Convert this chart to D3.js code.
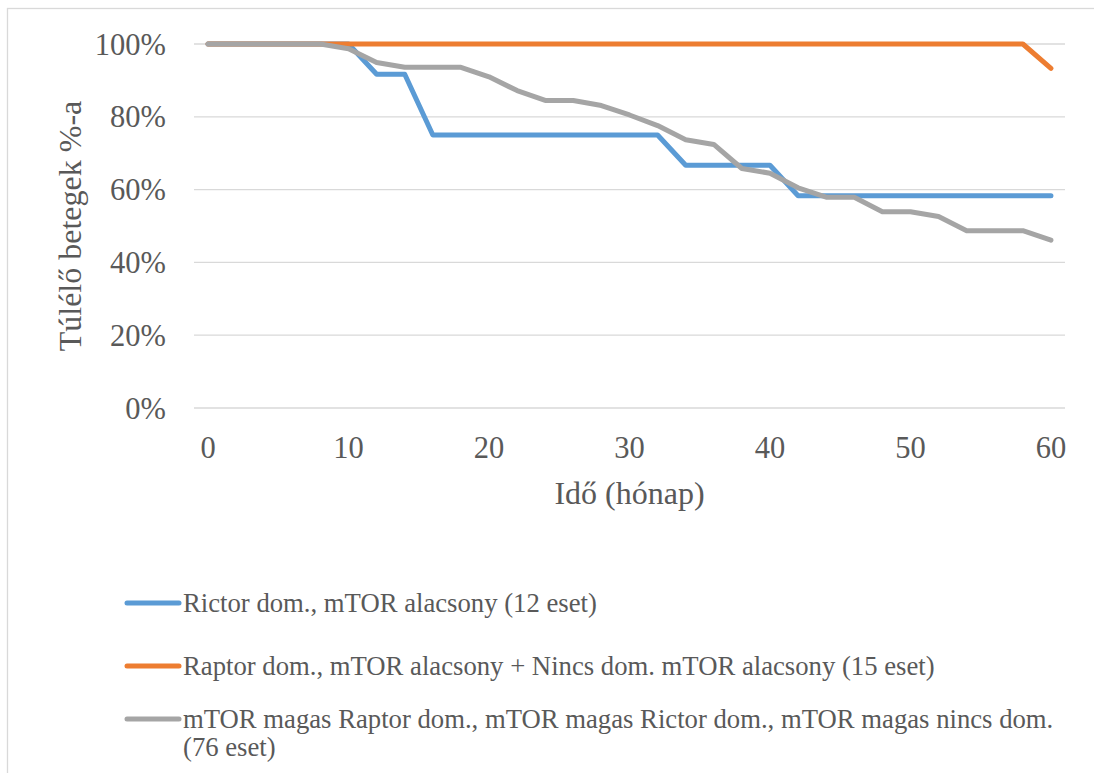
<!DOCTYPE html>
<html>
<head>
<meta charset="utf-8">
<script src="https://cdn.jsdelivr.net/npm/d3@7"></script>
<style>
  html, body { margin: 0; padding: 0; background: #fff; }
  svg { display: block; }
</style>
</head>
<body>
<svg id="chart" width="1094" height="773" font-family="'Liberation Serif', 'DejaVu Serif', serif"></svg>
<script>
// Survival time points (months)
const months = [0,2,4,6,8,10,12,14,16,18,20,22,24,26,28,30,32,34,36,38,40,42,44,46,48,50,52,54,56,58,60];

// Survival (%) per group
const rictorLow = [100,100,100,100,100,100,91.67,91.67,75,75,75,75,75,75,75,75,75,66.67,66.67,66.67,66.67,58.33,58.33,58.33,58.33,58.33,58.33,58.33,58.33,58.33,58.33];
const raptorNoneLow = [100,100,100,100,100,100,100,100,100,100,100,100,100,100,100,100,100,100,100,100,100,100,100,100,100,100,100,100,100,100,93.33];
const mtorHigh = [100,100,100,100,100,98.7,94.9,93.6,93.6,93.6,91.0,87.2,84.5,84.5,83.1,80.5,77.6,73.7,72.4,65.8,64.5,60.5,57.9,57.9,53.9,53.9,52.6,48.7,48.7,48.7,46.1];

const xTicks = [0,10,20,30,40,50,60];
const yTicks = [0,20,40,60,80,100];

const seriesNames = [
  "Rictor dom., mTOR alacsony (12 eset)",
  "Raptor dom., mTOR alacsony + Nincs dom. mTOR alacsony (15 eset)",
  "mTOR magas Raptor dom., mTOR magas Rictor dom., mTOR magas nincs dom. (76 eset)"
];
const seriesColors = ["#5B9BD5", "#ED7D31", "#A5A5A5"];
const seriesValues = [rictorLow, raptorNoneLow, mtorHigh];

const textColor = "#595959";
const svg = d3.select("#chart");

// Chart frame
svg.append("rect")
  .attr("x", 7.5).attr("y", 8.5)
  .attr("width", 1100).attr("height", 800)
  .attr("fill", "#fff").attr("stroke", "#D9D9D9").attr("stroke-width", 1.3);

const plot = { left: 194, right: 1065, top: 44, bottom: 408 };

// Category-style x axis: each month sits in the middle of its slot
const x = d3.scaleLinear().domain([-1, 61]).range([plot.left, plot.right]);
const y = d3.scaleLinear().domain([0, 100]).range([plot.bottom, plot.top]);

// Horizontal gridlines
svg.append("g")
  .selectAll("line")
  .data(yTicks)
  .join("line")
  .attr("x1", plot.left).attr("x2", plot.right)
  .attr("y1", d => y(d)).attr("y2", d => y(d))
  .attr("stroke", "#D9D9D9").attr("stroke-width", 1.3);

// Y tick labels
svg.append("g")
  .selectAll("text")
  .data(yTicks)
  .join("text")
  .attr("x", 166)
  .attr("y", d => y(d))
  .attr("dy", "0.35em")
  .attr("text-anchor", "end")
  .attr("font-size", 30.5)
  .attr("fill", textColor)
  .text(d => d + "%");

// X tick labels
svg.append("g")
  .selectAll("text")
  .data(xTicks)
  .join("text")
  .attr("x", d => x(d))
  .attr("y", 458)
  .attr("text-anchor", "middle")
  .attr("font-size", 30.5)
  .attr("fill", textColor)
  .text(d => d);

// Axis titles
svg.append("text")
  .attr("transform", "translate(81," + ((plot.top + plot.bottom) / 2) + ") rotate(-90)")
  .attr("text-anchor", "middle")
  .attr("font-size", 32)
  .attr("fill", textColor)
  .text("Túlélő betegek %-a");

svg.append("text")
  .attr("x", (plot.left + plot.right) / 2)
  .attr("y", 504)
  .attr("text-anchor", "middle")
  .attr("font-size", 32)
  .attr("fill", textColor)
  .text("Idő (hónap)");

// Survival lines
const line = d3.line()
  .x((d, i) => x(months[i]))
  .y(d => y(d));

svg.append("g")
  .selectAll("path")
  .data(seriesValues)
  .join("path")
  .attr("d", line)
  .attr("fill", "none")
  .attr("stroke", (d, i) => seriesColors[i])
  .attr("stroke-width", 5)
  .attr("stroke-linejoin", "round")
  .attr("stroke-linecap", "round");

// Legend
const legendRows = [
  { y: 603, lines: [seriesNames[0]] },
  { y: 666, lines: [seriesNames[1]] },
  { y: 719, lines: ["mTOR magas Raptor dom., mTOR magas Rictor dom., mTOR magas nincs dom.", "(76 eset)"] }
];

const legend = svg.append("g");
legendRows.forEach((row, i) => {
  legend.append("line")
    .attr("x1", 127).attr("x2", 179)
    .attr("y1", row.y).attr("y2", row.y)
    .attr("stroke", seriesColors[i])
    .attr("stroke-width", 5)
    .attr("stroke-linecap", "round");
  const t = legend.append("text")
    .attr("x", 183)
    .attr("y", row.y)
    .attr("font-size", 26.7)
    .attr("fill", textColor);
  row.lines.forEach((s, k) => {
    t.append("tspan")
      .attr("x", 183)
      .attr("dy", k === 0 ? "0.35em" : "1.05em")
      .text(s);
  });
});
</script>
</body>
</html>
